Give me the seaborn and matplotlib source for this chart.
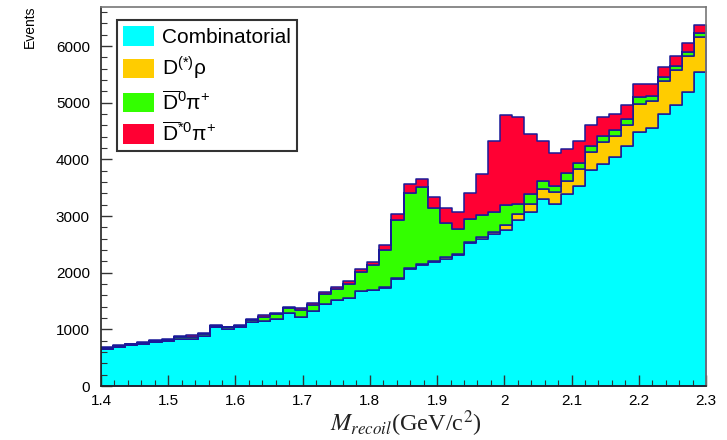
import numpy as np
import pandas as pd
import matplotlib
matplotlib.use("Agg")
import matplotlib.pyplot as plt
import seaborn as sns
from matplotlib.patches import Patch
from matplotlib.font_manager import FontProperties
from matplotlib.ticker import MultipleLocator

# ---- data (events per bin, 50 bins from 1.4 to 2.3 GeV/c^2) ----
x_min, x_max, n_bins = 1.4, 2.3, 50
combinatorial = [660, 695, 722, 750, 780, 800, 830, 835, 880, 1040,
                 1010, 1040, 1133, 1150, 1191, 1291, 1221, 1320, 1456, 1514,
                 1555, 1680, 1690, 1737, 1890, 2060, 2130, 2188, 2248, 2306,
                 2523, 2600, 2688, 2758, 2922, 3063, 3304, 3216, 3392, 3539,
                 3815, 3921, 4037, 4243, 4492, 4551, 4801, 4962, 5196, 5548]
d_rho = [0, 0, 0, 0, 0, 0, 0, 0, 0, 0,
         0, 0, 0, 0, 0, 0, 0, 0, 0, 0,
         0, 0, 10, 10, 15, 15, 15, 22, 22, 30,
         17, 29, 29, 77, 108, 153, 176, 205, 235, 293,
         310, 381, 382, 370, 485, 484, 574, 613, 631, 614]
d0_pi = [10, 10, 12, 13, 20, 15, 30, 30, 30, 20,
         25, 25, 35, 75, 80, 80, 124, 115, 165, 195,
         250, 340, 430, 655, 1029, 1329, 1376, 929, 605, 440,
         400, 381, 352, 365, 186, 176, 147, 118, 129, 106,
         118, 117, 103, 100, 117, 76, 77, 65, 65, 64]
dstar0_pi = [10, 10, 11, 12, 15, 15, 30, 30, 30, 10,
             15, 15, 12, 25, 17, 19, 30, 27, 34, 40,
             47, 40, 50, 88, 106, 156, 135, 196, 265, 293,
             470, 734, 1250, 1589, 1526, 1051, 704, 575, 424, 381,
             357, 331, 279, 246, 229, 212, 182, 187, 159, 147]

components = ["Combinatorial", "Drho", "D0pi", "Dstar0pi"]
legend_labels = ["Combinatorial",
                 r"D$^{(*)}$ρ",
                 r"$\overline{\mathrm{D}}^{0}$π$^{+}$",
                 r"$\overline{\mathrm{D}}^{*0}$π$^{+}$"]
colors = ["#00FFFF", "#FFCC00", "#33FF00", "#FF0033"]

bin_w = (x_max - x_min) / n_bins
centers = x_min + bin_w * (np.arange(n_bins) + 0.5)
series = [combinatorial, d_rho, d0_pi, dstar0_pi]
df = pd.concat([pd.DataFrame({"x": centers, "w": vals, "comp": name})
                for name, vals in zip(components, series)], ignore_index=True)

plt.rcParams["mathtext.fontset"] = "custom"
plt.rcParams["mathtext.rm"] = "Liberation Sans"
plt.rcParams["mathtext.it"] = "Liberation Sans:italic"
plt.rcParams["mathtext.bf"] = "Liberation Sans:bold"
plt.rcParams["font.family"] = ["Liberation Sans", "DejaVu Sans"]

fig = plt.figure(figsize=(7.27, 4.40), dpi=100)
ax = fig.add_axes([101 / 727, 1 - 386 / 440, 605 / 727, 379 / 440])

# seaborn stacks the first hue level on top, so list the bottom layer last
stack_order = components[::-1]
sns.histplot(data=df, x="x", weights="w", hue="comp", hue_order=stack_order,
             multiple="stack", bins=n_bins, binrange=(x_min, x_max),
             element="step", fill=True,
             palette=dict(zip(components, colors)), alpha=1.0,
             edgecolor="#1a1a99", linewidth=1.1, legend=False, ax=ax)

ax.set_xlim(x_min, x_max)
ax.set_ylim(0, 6690)
ax.set_xlabel("")
ax.set_ylabel("")

ax.xaxis.set_major_locator(MultipleLocator(0.1))
ax.xaxis.set_minor_locator(MultipleLocator(0.02))
ax.yaxis.set_major_locator(MultipleLocator(1000))
ax.yaxis.set_minor_locator(MultipleLocator(200))
ax.tick_params(axis="both", which="both", direction="in", top=False, right=False,
               color="#333333")
ax.tick_params(axis="both", which="major", length=8, width=1.0, labelsize=11)
ax.tick_params(axis="both", which="minor", length=4, width=0.8)
ax.tick_params(axis="y", which="major", pad=8)
ax.tick_params(axis="x", which="major", pad=6)
xt = ax.get_xticks()
ax.set_xticks(xt)
ax.set_xticklabels([("%g" % round(v, 2)) for v in xt])
ax.set_xlim(x_min, x_max)

for side in ["top", "right"]:
    ax.spines[side].set_color("#777777")
for side in ["left", "bottom"]:
    ax.spines[side].set_color("#222222")
for s in ax.spines.values():
    s.set_linewidth(1.2)

fig.text(30 / 727, 1 - 6 / 440, "Events", rotation=90, ha="center", va="top",
         fontsize=10)
xl_fp = FontProperties(family="Liberation Serif", size=17.5, math_fontfamily="stix")
fig.text(406 / 727, 1 - 424 / 440, r"$M_{recoil}$(GeV/c$^{2}$)",
         ha="center", va="center", fontproperties=xl_fp, color="#222222")

handles = [Patch(facecolor=c, edgecolor="none") for c in colors]
leg_fp = FontProperties(family="Liberation Sans", size=15, math_fontfamily="custom")
leg = ax.legend(handles, legend_labels, loc="upper left",
                bbox_to_anchor=(117 / 727, 1 - 20.5 / 440),
                bbox_transform=fig.transFigure, borderaxespad=0,
                prop=leg_fp, frameon=True, fancybox=False, framealpha=1,
                edgecolor="#333333", handlelength=1.5, handleheight=1.05,
                handletextpad=0.4, labelspacing=0.38, borderpad=0.28)
leg.get_frame().set_linewidth(1.5)

fig.savefig("out.png", dpi=100)
